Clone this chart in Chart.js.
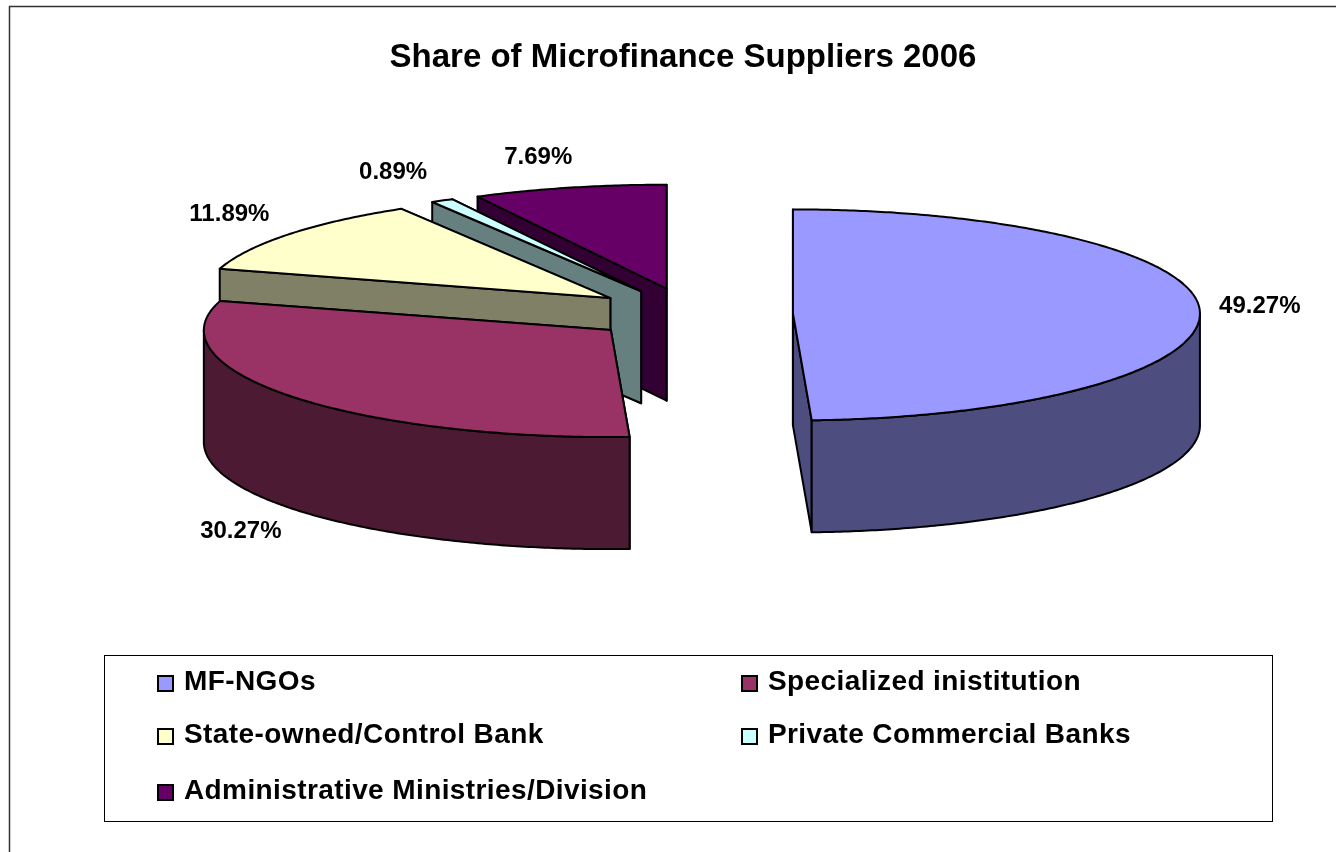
<!DOCTYPE html>
<html>
<head>
<meta charset="utf-8">
<title>Share of Microfinance Suppliers 2006</title>
<script src="https://cdn.jsdelivr.net/npm/chart.js@4"></script>
<style>
    html, body { margin: 0; padding: 0; background: #fff; overflow: hidden; }
    canvas { display: block; }
</style>
</head>
<body>
<canvas id="chart" width="1336" height="852"></canvas>
<script>
const title = 'Share of Microfinance Suppliers 2006';
const labels = ['MF-NGOs', 'Specialized inistitution', 'State-owned/Control Bank', 'Private Commercial Banks', 'Administrative Ministries/Division'];
const shares = [49.27, 30.27, 11.89, 0.89, 7.69];
const colors = ['#9999ff', '#993366', '#ffffcc', '#ccffff', '#660066'];
const wallColors = ['#4d4d80', '#4d1a33', '#808066', '#668080', '#330033'];

// back slices first so the nearer ones cover them
const drawOrder = [4, 3, 2, 1, 0];
// nudge of each % label from the rim point at the middle of its slice
const labelNudges = [[60, -5], [-50, 135], [-59, -20], [-49, -28], [-31, -30]];

const fontFamily = '"Liberation Sans", Arial, sans-serif';
const pieCentre = { x: 691, y: 314 };
const radiusPx = 200;
const explodePx = 50.1;
const squashX = 407 / radiusPx;
const squashBack = 104 / radiusPx;
const squashFront = 107 / radiusPx; // the near half looks a bit bigger in perspective
const depth = 112;

// where a slice lands once the flat pie is tilted
function sliceGeometry(arc) {
    const p = arc.getProps(['startAngle', 'endAngle', 'outerRadius'], true);
    const mid = (p.startAngle + p.endAngle) / 2;
    return {
        start: p.startAngle,
        end: p.endAngle,
        mid: mid,
        radius: p.outerRadius,
        cx: pieCentre.x + Math.cos(mid) * explodePx * squashX,
        cy: pieCentre.y + Math.sin(mid) * explodePx * squashBack
    };
}

function rimPoint(g, angle) {
    const s = Math.sin(angle);
    return [
        g.cx + Math.cos(angle) * g.radius * squashX,
        g.cy + s * g.radius * (s > 0 ? squashFront : squashBack)
    ];
}

function traceRim(ctx, g, from, to, dy) {
    const steps = Math.max(1, Math.ceil(Math.abs(to - from) / 0.01));
    for (let k = 0; k <= steps; k++) {
        const [x, y] = rimPoint(g, from + (to - from) * k / steps);
        ctx.lineTo(x, y + dy);
    }
}

function fillAndStroke(ctx, fill) {
    ctx.fillStyle = fill;
    ctx.fill();
    ctx.stroke();
}

function cutFace(ctx, g, angle, fill) {
    const [x, y] = rimPoint(g, angle);
    ctx.beginPath();
    ctx.moveTo(g.cx, g.cy);
    ctx.lineTo(x, y);
    ctx.lineTo(x, y + depth);
    ctx.lineTo(g.cx, g.cy + depth);
    ctx.closePath();
    fillAndStroke(ctx, fill);
}

const pie3d = {
    id: 'pie3d',
    beforeDraw(chart) {
        const ctx = chart.ctx;
        ctx.save();
        ctx.fillStyle = '#fff';
        ctx.fillRect(0, 0, chart.width, chart.height);
        ctx.strokeStyle = '#333';
        ctx.lineWidth = 1.5;
        ctx.strokeRect(9.5, 6.5, chart.width + 40, chart.height + 40);
        ctx.restore();
    },
    beforeDatasetDraw(chart) {
        const ctx = chart.ctx;
        const arcs = chart.getDatasetMeta(0).data;
        ctx.save();
        ctx.strokeStyle = '#000';
        ctx.lineWidth = 2;
        ctx.lineJoin = 'round';
        drawOrder.forEach(i => {
            const g = sliceGeometry(arcs[i]);
            cutFace(ctx, g, g.end, wallColors[i]);
            cutFace(ctx, g, g.start, wallColors[i]);

            // outer wall, only the part facing the viewer
            const from = Math.max(g.start, 0);
            const to = Math.min(g.end, Math.PI);
            if (to > from) {
                ctx.beginPath();
                traceRim(ctx, g, from, to, 0);
                traceRim(ctx, g, to, from, depth);
                ctx.closePath();
                fillAndStroke(ctx, wallColors[i]);
            }

            ctx.beginPath();
            ctx.moveTo(g.cx, g.cy);
            traceRim(ctx, g, g.start, g.end, 0);
            ctx.closePath();
            fillAndStroke(ctx, colors[i]);
        });
        ctx.restore();
        return false;
    },
    afterDraw(chart) {
        const ctx = chart.ctx;
        const arcs = chart.getDatasetMeta(0).data;
        ctx.save();
        ctx.fillStyle = '#000';
        ctx.textAlign = 'center';
        ctx.textBaseline = 'middle';
        ctx.font = 'bold 24px ' + fontFamily;
        shares.forEach((v, i) => {
            const g = sliceGeometry(arcs[i]);
            const [x, y] = rimPoint(g, g.mid);
            ctx.fillText(v.toFixed(2) + '%', x + labelNudges[i][0], y + labelNudges[i][1]);
        });

        // legend box, two columns like the original
        ctx.strokeStyle = '#000';
        ctx.lineWidth = 1;
        ctx.strokeRect(104.5, 655.5, 1168, 166);
        const rows = [682, 735, 791];
        const columns = [158, 742];
        ctx.textAlign = 'left';
        ctx.font = 'bold 28px ' + fontFamily;
        ctx.letterSpacing = '0.4px';
        ctx.lineWidth = 2;
        labels.forEach((label, i) => {
            const x = columns[i % 2];
            const y = rows[Math.floor(i / 2)];
            ctx.fillStyle = colors[i];
            ctx.fillRect(x, y - 6, 15, 15);
            ctx.strokeRect(x, y - 6, 15, 15);
            ctx.fillStyle = '#000';
            ctx.fillText(label, x + 26, y);
        });
        ctx.restore();
    }
};

new Chart(document.getElementById('chart').getContext('2d'), {
    type: 'pie',
    data: {
        labels: labels,
        datasets: [{
            label: title,
            data: shares,
            backgroundColor: colors,
            borderColor: '#000',
            borderWidth: 2,
            offset: explodePx
        }]
    },
    plugins: [pie3d],
    options: {
        responsive: false,
        animation: false,
        radius: radiusPx,
        layout: { padding: { left: 30 } },
        plugins: {
            legend: { display: false },
            tooltip: { enabled: false },
            title: {
                display: true,
                text: title,
                color: '#000',
                font: { family: fontFamily, size: 33, weight: 'bold' },
                padding: { top: 38, bottom: 10 }
            }
        }
    }
});
</script>
</body>
</html>
